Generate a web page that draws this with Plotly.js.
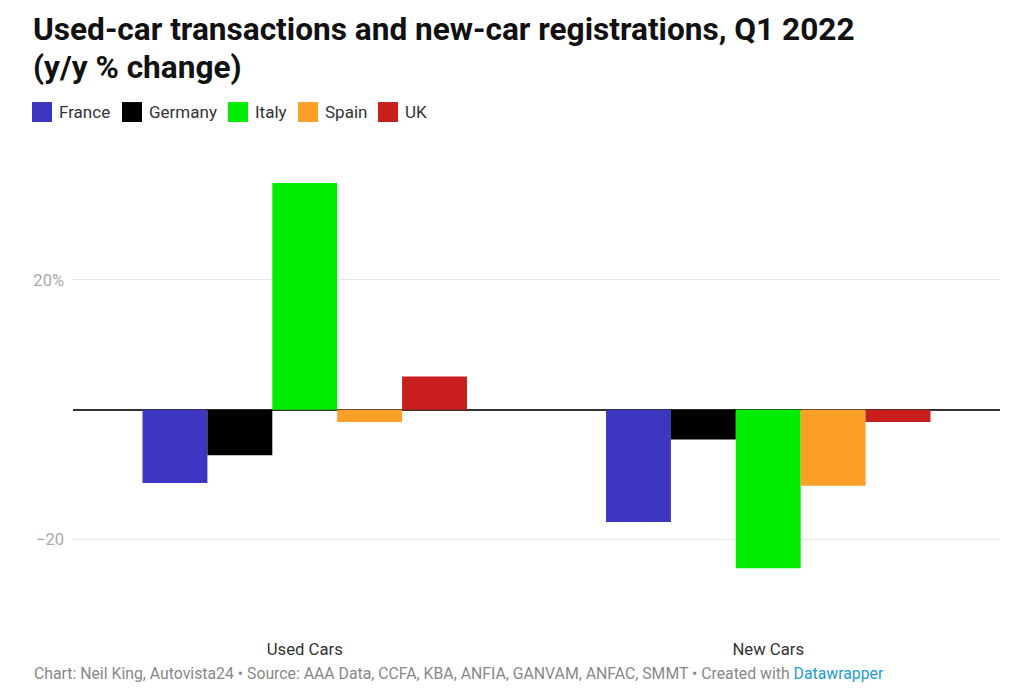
<!DOCTYPE html>
<html>
<head>
<meta charset="utf-8">
<script src="https://cdn.plot.ly/plotly-3.0.1.min.js"></script>
<style>html,body{margin:0;padding:0;background:#fff;}#chart{width:1024px;height:690px;}</style>
</head>
<body>
<div id="chart"></div>
<script>
// ---- data ----
const categories = ["Used Cars", "New Cars"];
const countries = ["France", "Germany", "Italy", "Spain", "UK"];
const france  = [-11.3, -17.3];
const germany = [-7.0, -4.6];
const italy   = [34.9, -24.4];
const spain   = [-1.9, -11.7];
const uk      = [5.1, -1.9];
const yTickVals = [-20, 20];
const yTickText = ["\u221220", "20%"];
const titleLines = ["Used-car transactions and new-car registrations, Q1 2022", "(y/y % change)"];

// ---- styles ----
const colors = ["#3c36c0", "#000000", "#00ec00", "#fea028", "#c81e1e"];
const seriesValues = [france, germany, italy, spain, uk];
const legendX = [32, 122, 228, 298, 378];  // px, layout only
const titleY = [29, 67];                   // px, layout only

const traces = countries.map((name, i) => ({
  type: "bar",
  name: name,
  x: categories,
  y: seriesValues[i],
  marker: {color: colors[i], line: {width: 0}},
  hoverinfo: "x+y+name"
}));

const W = 1024, H = 690;
const mL = 73, mR = 24, mT = 150, plotH = 487.5;
const px = x => (x - mL) / (W - mL - mR);
const py = y => 1 + (mT - y) / plotH;
const shapes = [];
const annotations = [];
countries.forEach((name, i) => {
  const x0 = legendX[i];
  shapes.push({
    type: "rect", xref: "paper", yref: "paper",
    x0: px(x0), x1: px(x0 + 20), y0: py(122), y1: py(102),
    fillcolor: colors[i], line: {width: 0}
  });
  annotations.push({
    xref: "paper", yref: "paper",
    x: px(x0 + 25), y: py(112),
    xanchor: "left", yanchor: "middle", showarrow: false,
    text: name, font: {family: "Roboto", size: 17, color: "#333333"}
  });
});
titleLines.forEach((t, i) => {
  annotations.push({
    xref: "paper", yref: "paper",
    x: px(31), y: py(titleY[i]),
    xanchor: "left", yanchor: "middle", showarrow: false,
    text: "<b>" + t + "</b>",
    font: {family: "Roboto", size: 31.6, color: "#111111"}
  });
});
annotations.push({
  xref: "paper", yref: "paper",
  x: px(32), y: py(674),
  xanchor: "left", yanchor: "middle", showarrow: false,
  text: 'Chart: Neil King, Autovista24 \u2022 Source: AAA Data, CCFA, KBA, ANFIA, GANVAM, ANFAC, SMMT \u2022 Created with <span style="color:#1d9bd1">Datawrapper</span>',
  font: {family: "Roboto", size: 15.8, color: "#888888"}
});

const layout = {
  width: W, height: H,
  margin: {l: mL, r: mR, t: mT, b: H - mT - plotH, pad: 0},
  paper_bgcolor: "#ffffff", plot_bgcolor: "#ffffff",
  font: {family: "Roboto", color: "#333333"},
  showlegend: false,
  barmode: "group",
  bargap: 0.3,
  bargroupgap: 0,
  xaxis: {
    type: "category",
    showgrid: false, showline: false, zeroline: false,
    ticks: "",
    tickfont: {family: "Roboto", size: 16.7, color: "#333333"},
    fixedrange: true
  },
  yaxis: {
    range: [-35, 40],
    tickvals: yTickVals, ticktext: yTickText,
    showgrid: true, gridcolor: "#e6e6e6", gridwidth: 1,
    zeroline: true, zerolinecolor: "#333333", zerolinewidth: 2,
    showline: false, ticks: "",
    ticklabelstandoff: 8,
    tickfont: {family: "Roboto", size: 16.5, color: "#a8a8a8"},
    fixedrange: true
  },
  shapes: shapes,
  annotations: annotations
};

Plotly.newPlot("chart", traces, layout, {displayModeBar: false, staticPlot: true});
</script>
</body>
</html>
